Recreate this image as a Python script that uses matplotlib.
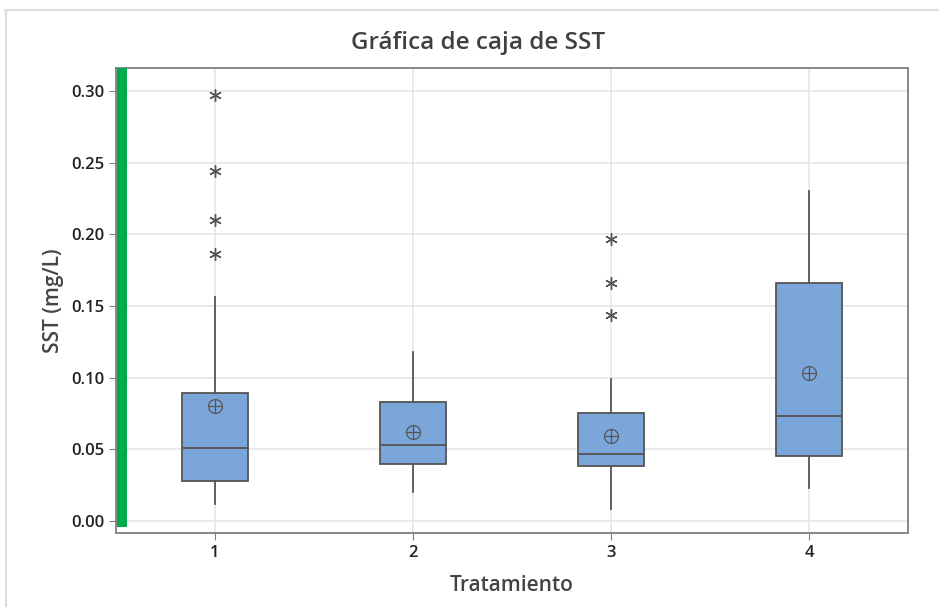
import matplotlib
matplotlib.use("Agg")
import matplotlib.pyplot as plt
from matplotlib.lines import Line2D

plt.rcParams['font.family'] = ['Open Sans', 'DejaVu Sans']

groups = [1, 2, 3, 4]
q1 = [0.028, 0.040, 0.038, 0.045]
med = [0.051, 0.053, 0.047, 0.073]
q3 = [0.089, 0.083, 0.075, 0.166]
whislo = [0.012, 0.020, 0.008, 0.023]
whishi = [0.156, 0.118, 0.099, 0.230]
means = [0.080, 0.062, 0.059, 0.103]
outliers = [[0.297, 0.244, 0.210, 0.186], [], [0.197, 0.166, 0.144], []]
yticks = [0.00, 0.05, 0.10, 0.15, 0.20, 0.25, 0.30]

box_color = '#7BA6D9'
edge = '#555555'

fig = plt.figure(figsize=(9.39, 6.07), dpi=100)
ax = fig.add_axes([116 / 939, 1 - 533 / 607, 792 / 939, 465 / 607])

stats = []
for i in range(len(groups)):
    stats.append({'q1': q1[i], 'med': med[i], 'q3': q3[i],
                  'whislo': whislo[i], 'whishi': whishi[i],
                  'fliers': [], 'label': str(groups[i])})

ax.bxp(stats, positions=groups, widths=0.335, patch_artist=True,
       showcaps=False, showfliers=False,
       boxprops=dict(facecolor=box_color, edgecolor=edge, linewidth=1.3),
       medianprops=dict(color=edge, linewidth=1.3),
       whiskerprops=dict(color=edge, linewidth=1.3), zorder=3)

# mean symbol: circle with a cross
ax.plot(groups, means, linestyle='none', marker='o', markersize=10,
        markerfacecolor='none', markeredgecolor=edge, markeredgewidth=0.9, zorder=4)
ax.plot(groups, means, linestyle='none', marker='+', markersize=10,
        color=edge, markeredgewidth=0.9, zorder=4)

for g, vals in zip(groups, outliers):
    if vals:
        ax.plot([g] * len(vals), vals, linestyle='none', marker=(6, 2, 0),
                markersize=9, color='#555555', markeredgewidth=1.0, zorder=4)

# green marker bar at the left edge
ax.bar(0.53, 0.32, bottom=-0.004, width=0.05, color='#00AB4E', zorder=5)

ax.set_xlim(0.5, 4.5)
ax.set_ylim(-0.0084, 0.316)
ax.set_yticks(yticks)
ax.set_yticklabels(['%.2f' % v for v in yticks])
ax.set_xticks(groups)
ax.set_xticklabels([str(g) for g in groups])
ax.grid(True, color='#E6E6E6', linewidth=1.2, zorder=0)
ax.set_axisbelow(True)
for s in ax.spines.values():
    s.set_color('#7F7F7F')
    s.set_linewidth(1.3)
ax.tick_params(colors='#7F7F7F', labelcolor='#222222', labelsize=12, length=5)
for lab in ax.get_xticklabels() + ax.get_yticklabels():
    lab.set_fontweight('semibold')

fig.text(478 / 939, 1 - 43 / 607, 'Gráfica de caja de SST', fontsize=17.5,
         fontweight='semibold', color='#404040', ha='center', va='center')
ax.set_xlabel('Tratamiento', fontsize=15, fontweight='semibold', color='#444444', labelpad=10)
ax.set_ylabel('SST (mg/L)', fontsize=15, fontweight='semibold', color='#444444', labelpad=5)

# thin frame around the figure (top and left only)
fig.add_artist(Line2D([5 / 939, 1], [1 - 10 / 607] * 2, color='#DDDDDD', linewidth=1.5))
fig.add_artist(Line2D([5.5 / 939] * 2, [0, 1 - 10 / 607], color='#DDDDDD', linewidth=1.5))

fig.savefig('out.png', dpi=100)
